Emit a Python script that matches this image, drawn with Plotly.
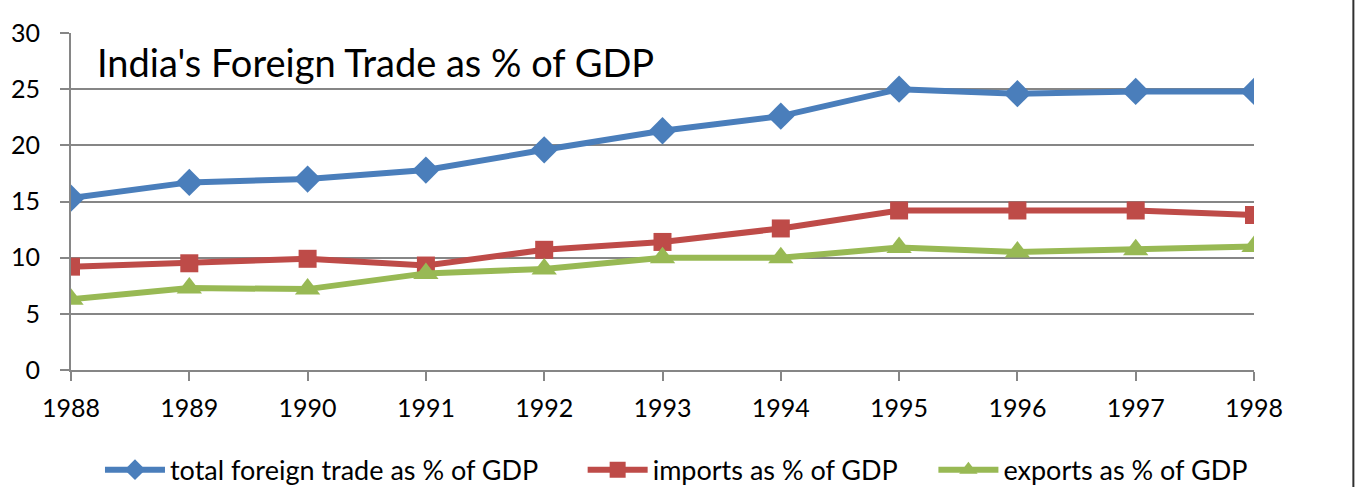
import plotly.graph_objects as go

years = [1988, 1989, 1990, 1991, 1992, 1993, 1994, 1995, 1996, 1997, 1998]
total_trade = [15.3, 16.7, 17.0, 17.8, 19.6, 21.3, 22.6, 25.0, 24.6, 24.8, 24.8]
imports = [9.2, 9.5, 9.9, 9.3, 10.7, 11.4, 12.6, 14.2, 14.2, 14.2, 13.8]
exports = [6.3, 7.3, 7.2, 8.6, 9.0, 10.0, 10.0, 10.9, 10.5, 10.7, 11.0]
names = ["total foreign trade as % of GDP", "imports as % of GDP", "exports as % of GDP"]
title_text = "India's Foreign Trade as % of GDP"

FONT = "Lato"

fig = go.Figure()
fig.add_trace(go.Scatter(x=years, y=total_trade, name=names[0], mode="lines+markers",
                         line=dict(color="#4A7EBB", width=6), legend="legend",
                         marker=dict(symbol="diamond", size=21, color="#4A7EBB")))
fig.add_trace(go.Scatter(x=years, y=imports, name=names[1], mode="lines+markers",
                         line=dict(color="#BE4B48", width=6), legend="legend2",
                         marker=dict(symbol="square", size=18, color="#BE4B48")))
fig.add_trace(go.Scatter(x=years, y=exports, name=names[2], mode="lines+markers",
                         line=dict(color="#98B954", width=6), legend="legend3",
                         marker=dict(symbol="triangle-up", size=22, color="#98B954")))

leg_common = dict(orientation="h", y=-0.297, yanchor="middle", xanchor="left",
                  font=dict(family=FONT, size=27, color="black"), itemwidth=60,
                  bgcolor="rgba(0,0,0,0)")

fig.update_layout(
    width=1357, height=487,
    margin=dict(l=71, r=103, t=33, b=117, autoexpand=False),
    paper_bgcolor="white", plot_bgcolor="white",
    font=dict(family=FONT, size=25, color="black"),
    showlegend=True,
    legend=dict(x=0.0245, **leg_common),
    legend2=dict(x=0.4325, **leg_common),
    legend3=dict(x=0.729, **leg_common),
    xaxis=dict(range=[1988, 1998], tickmode="array", tickvals=years,
               ticktext=[str(y) for y in years],
               showgrid=False, showline=True, linecolor="#868686", linewidth=2,
               ticks="outside", ticklen=9, tickcolor="#868686", tickwidth=2,
               ticklabelstandoff=6,
               tickfont=dict(family=FONT, size=25), zeroline=False),
    yaxis=dict(range=[0, 30], tickvals=[0, 5, 10, 15, 20, 25, 30],
               showgrid=True, gridcolor="#868686", gridwidth=2,
               showline=True, linecolor="#868686", linewidth=2,
               ticks="outside", ticklen=9, tickcolor="#868686", tickwidth=2,
               ticklabelstandoff=15,
               tickfont=dict(family=FONT, size=25), zeroline=False),
    annotations=[dict(text=title_text, xref="paper", yref="paper",
                      x=0.02, y=0.914, xanchor="left", yanchor="middle",
                      showarrow=False, font=dict(family=FONT, size=38, color="black"))],
    shapes=[dict(type="line", xref="paper", yref="paper",
                 x0=1.084, x1=1.084, y0=-0.36, y1=1.1,
                 line=dict(color="#303030", width=2))],
)

fig.write_html("out.html")
